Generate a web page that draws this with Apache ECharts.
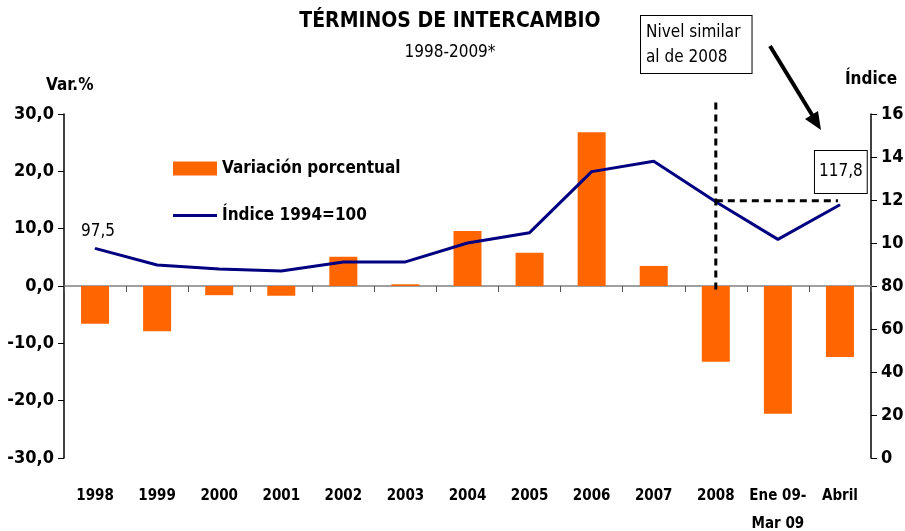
<!DOCTYPE html>
<html>
<head>
<meta charset="utf-8">
<script src="https://cdn.jsdelivr.net/npm/echarts@6/dist/echarts.min.js"></script>
<style>
  html, body { margin: 0; padding: 0; background: #fff; }
  #chart { width: 905px; height: 531px; }
</style>
</head>
<body>
<div id="chart"></div>
<script>
// categorías del eje X
var categories = ['1998', '1999', '2000', '2001', '2002', '2003', '2004', '2005', '2006', '2007', '2008', 'Ene 09-\nMar 09', 'Abril'];
// variación porcentual (eje izquierdo)
var variacion = [-6.6, -7.9, -1.6, -1.7, 5.1, 0.3, 9.6, 5.8, 26.8, 3.5, -13.2, -22.3, -12.4];
// índice 1994=100 (eje derecho)
var indice = [97.5, 89.8, 87.9, 87.0, 91.2, 91.2, 100.0, 104.8, 133.2, 138.0, 119.2, 101.7, 117.8];
// etiquetas del eje derecho tal como aparecen (recortadas)
var rightTickLabels = ['0', '20', '40', '60', '80', '10', '12', '14', '16'];

var FONT = "'Liberation Sans Narrow', 'DejaVu Sans Condensed', sans-serif";

var chart = echarts.init(document.getElementById('chart'));

var option = {
    animation: false,
    textStyle: { fontFamily: FONT },
    title: {
        text: 'TÉRMINOS DE INTERCAMBIO',
        subtext: '1998-2009*',
        left: 445,
        top: 6,
        textAlign: 'center',
        itemGap: 12,
        textStyle: { fontFamily: FONT, fontSize: 21, fontWeight: 'bold', color: '#000' },
        subtextStyle: { fontFamily: FONT, fontSize: 17, color: '#000' }
    },
    legend: {
        orient: 'vertical',
        left: 168,
        top: 155,
        itemWidth: 44,
        itemHeight: 14,
        itemGap: 30,
        textStyle: { fontFamily: FONT, fontSize: 17, fontWeight: 'bold', color: '#000' },
        data: [
            { name: 'Variación porcentual', icon: 'rect' },
            { name: 'Índice 1994=100', icon: 'path://M0,0H44V3H0Z' }
        ]
    },
    grid: { left: 64, right: 34, top: 114, bottom: 73, containLabel: false, outerBoundsMode: 'none' },
    xAxis: {
        type: 'category',
        data: categories,
        axisLine: { onZero: true, lineStyle: { color: '#808080', width: 1.5 } },
        axisTick: { show: true, length: 6, lineStyle: { color: '#555' } },
        axisLabel: {
            interval: 0,
            margin: 24,
            lineHeight: 28,
            fontFamily: FONT,
            fontSize: 15,
            fontWeight: 'bold',
            color: '#000',
            verticalAlign: 'top'
        }
    },
    yAxis: [
        {
            type: 'value',
            min: -30, max: 30, interval: 10,
            name: 'Var.%',
            nameLocation: 'end',
            nameGap: 20,
            nameTextStyle: { fontFamily: FONT, fontSize: 17, fontWeight: 'bold', color: '#000', align: 'left', padding: [0, 0, 0, -18] },
            axisLine: { show: true, lineStyle: { color: '#000', width: 1.5 } },
            axisTick: { show: true, length: 6, lineStyle: { color: '#000' } },
            splitLine: { show: false },
            axisLabel: {
                fontFamily: FONT, fontSize: 18, fontWeight: 'bold', color: '#000', margin: 10,
                formatter: function (v) { return v.toFixed(1).replace('.', ','); }
            }
        },
        {
            type: 'value',
            min: 0, max: 160, interval: 20,
            position: 'right',
            name: 'Índice',
            nameLocation: 'end',
            nameGap: 26,
            nameTextStyle: { fontFamily: FONT, fontSize: 17, fontWeight: 'bold', color: '#000', align: 'center' },
            axisLine: { show: true, lineStyle: { color: '#000', width: 1.5 } },
            axisTick: { show: true, length: 6, lineStyle: { color: '#000' } },
            splitLine: { show: false },
            axisLabel: {
                fontFamily: FONT, fontSize: 18, fontWeight: 'bold', color: '#000', margin: 10,
                formatter: function (v) { return rightTickLabels[Math.round(v / 20)]; }
            }
        }
    ],
    series: [
        {
            name: 'Variación porcentual',
            type: 'bar',
            yAxisIndex: 0,
            barWidth: 28,
            itemStyle: { color: '#FF6600' },
            data: variacion
        },
        {
            name: 'Índice 1994=100',
            type: 'line',
            yAxisIndex: 1,
            symbol: 'circle',
            symbolSize: 1,
            lineStyle: { color: '#000080', width: 3 },
            itemStyle: { color: '#000080' },
            data: indice.map(function (v, i) {
                if (i === 0) {
                    return {
                        value: v,
                        label: {
                            show: true, position: 'top', distance: 8, offset: [3, 0],
                            fontFamily: FONT, fontSize: 17, color: '#000',
                            formatter: function (p) { return p.value.toFixed(1).replace('.', ','); }
                        }
                    };
                }
                return v;
            })
        }
    ]
};

chart.setOption(option);

// anotaciones: líneas punteadas, cuadros de texto y flecha
var i2008 = categories.indexOf('2008');
var iLast = categories.length - 1;
var p2008 = chart.convertToPixel({ xAxisIndex: 0, yAxisIndex: 1 }, [i2008, indice[i2008]]);
var pLast = chart.convertToPixel({ xAxisIndex: 0, yAxisIndex: 1 }, [iLast, indice[i2008]]);
var pLastVal = chart.convertToPixel({ xAxisIndex: 0, yAxisIndex: 1 }, [iLast, indice[iLast]]);
var pZero = chart.convertToPixel({ xAxisIndex: 0, yAxisIndex: 0 }, [i2008, -1.0]);
var pTop = chart.convertToPixel({ xAxisIndex: 0, yAxisIndex: 0 }, [i2008, 32]);

var dash = { stroke: '#000', lineWidth: 3, lineDash: [7, 5] };

chart.setOption({
    graphic: [
        { type: 'line', shape: { x1: p2008[0], y1: pTop[1], x2: p2008[0], y2: pZero[1] }, style: dash, z: 10 },
        { type: 'line', shape: { x1: p2008[0], y1: p2008[1] - 1, x2: pLast[0] - 2, y2: pLast[1] - 1 }, style: dash, z: 10 },
        {
            type: 'text', left: pLastVal[0] - 26, top: 150, z: 10,
            style: {
                text: indice[iLast].toFixed(1).replace('.', ','),
                font: '17px ' + FONT, fill: '#000',
                backgroundColor: '#fff', borderColor: '#000', borderWidth: 1,
                padding: [12, 4, 13, 4]
            }
        },
        {
            type: 'text', left: 640, top: 15, z: 10,
            style: {
                text: 'Nivel similar\nal de 2008',
                font: '17px ' + FONT, fill: '#000', lineHeight: 25,
                backgroundColor: '#fff', borderColor: '#000', borderWidth: 1,
                padding: [4, 11, 3, 5]
            }
        },
        { type: 'line', shape: { x1: 770, y1: 46, x2: 814, y2: 118 }, style: { stroke: '#000', lineWidth: 4 }, z: 10 },
        { type: 'polygon', shape: { points: [[821, 130], [805, 119], [818, 111]] }, style: { fill: '#000' }, z: 10 }
    ]
});
</script>
</body>
</html>
